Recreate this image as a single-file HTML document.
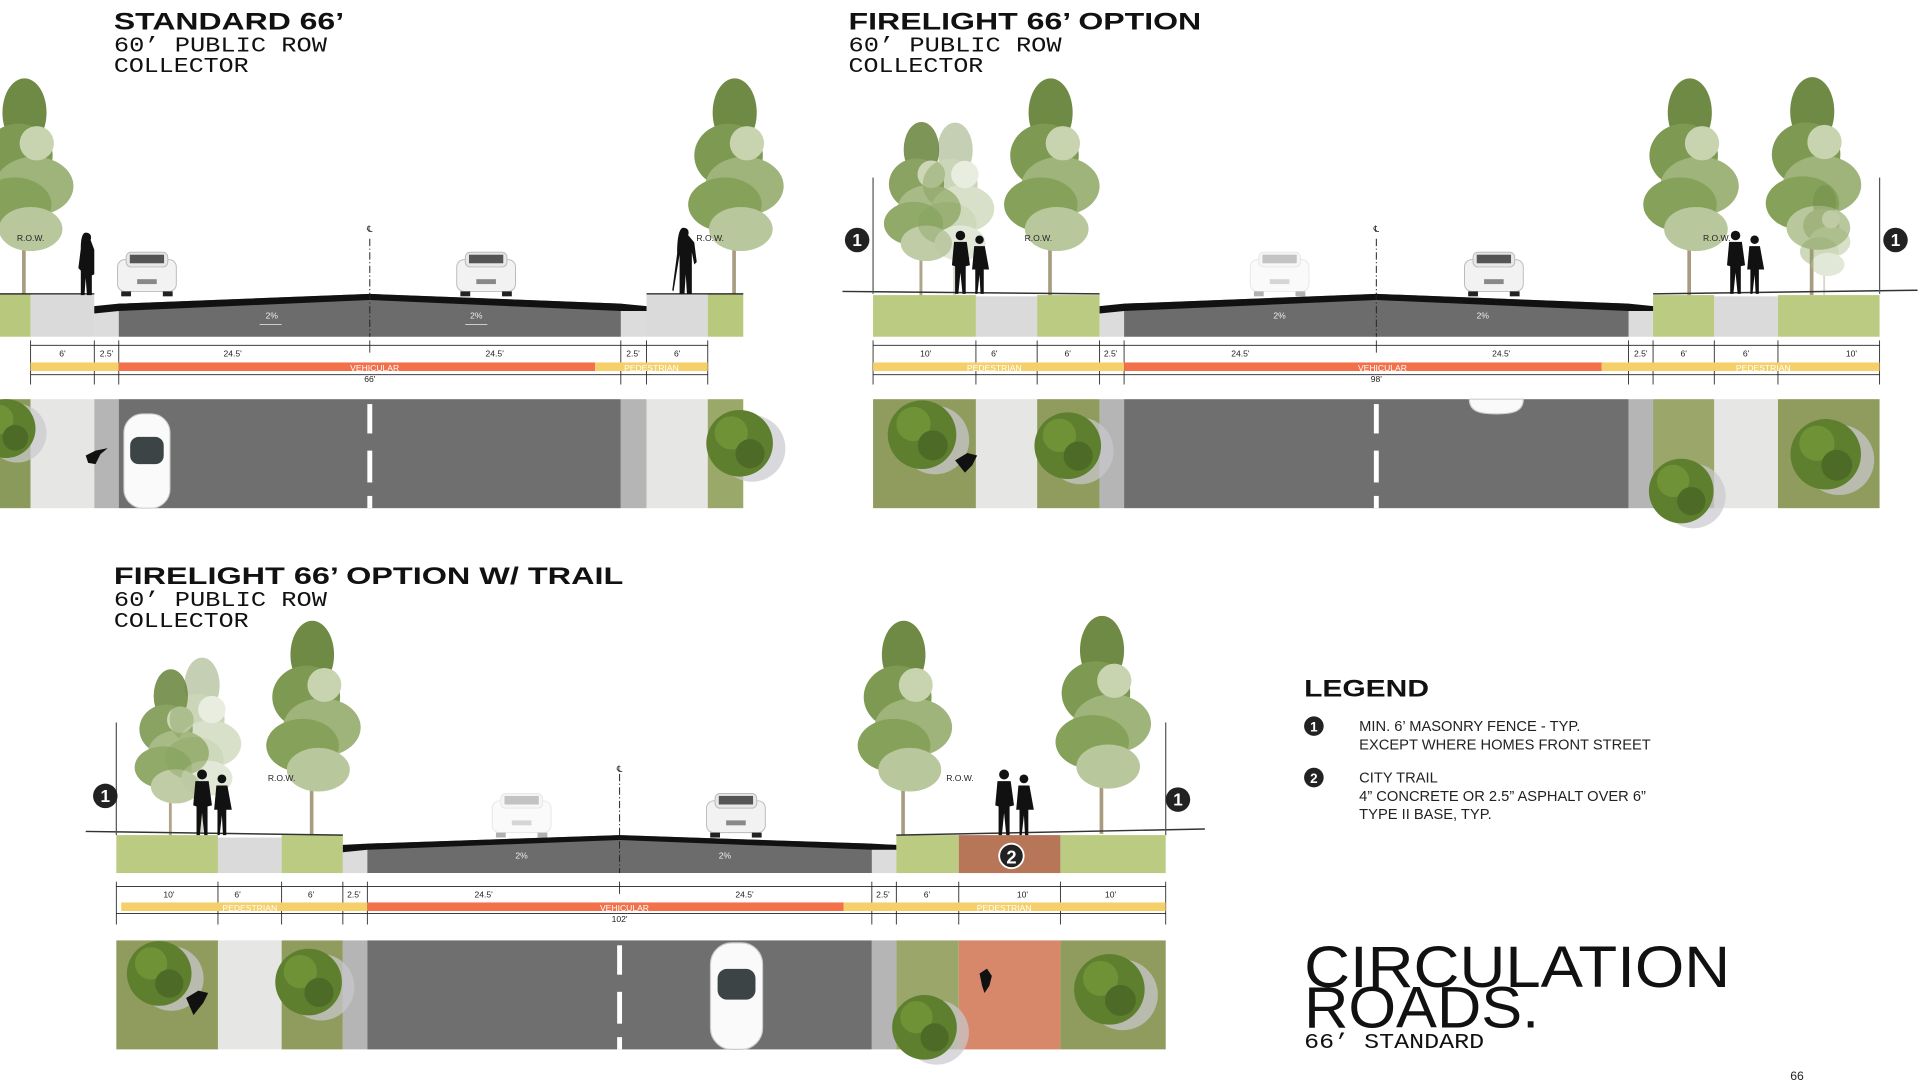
<!DOCTYPE html>
<html><head><meta charset="utf-8"><style>
html,body{margin:0;padding:0;background:#fff;width:1920px;height:1080px;overflow:hidden}
svg{display:block}
.t{font-family:"Liberation Sans",sans-serif;font-weight:bold;fill:#111}
.m{font-family:"Liberation Mono",monospace;fill:#111}
.s{font-family:"Liberation Sans",sans-serif;fill:#222}
.d{font-family:"Liberation Sans",sans-serif;font-size:7px;fill:#222;text-anchor:middle}
.b{font-family:"Liberation Sans",sans-serif;font-size:7px;fill:#fff;text-anchor:middle}
</style></head><body>
<svg width="1920" height="1080" viewBox="0 0 1568 882" xmlns="http://www.w3.org/2000/svg">
<defs>
<symbol id="tree" viewBox="0 0 100 180" overflow="visible">
<rect x="48" y="60" width="3" height="120" fill="#a89c80"/>
<ellipse cx="50" cy="30" rx="18" ry="28" fill="#6f8a45"/>
<ellipse cx="45" cy="65" rx="28" ry="26" fill="#7e9a52"/>
<ellipse cx="58" cy="90" rx="32" ry="24" fill="#9fb47a"/>
<ellipse cx="42" cy="105" rx="30" ry="22" fill="#86a15a"/>
<ellipse cx="55" cy="125" rx="26" ry="18" fill="#b9c79d"/>
<ellipse cx="60" cy="55" rx="14" ry="14" fill="#c8d3b0"/>
</symbol>
<symbol id="ptree" viewBox="0 0 80 80" overflow="visible">
<circle cx="52" cy="45" r="32" fill="#c9c9cf" opacity=".7"/>
<circle cx="40" cy="40" r="32" fill="#5e7f2e"/>
<circle cx="32" cy="30" r="16" fill="#6f9237"/>
<circle cx="50" cy="50" r="14" fill="#4d6b26"/>
</symbol>
<symbol id="car" viewBox="0 0 52 38" overflow="visible">
<rect x="2" y="8" width="48" height="26" rx="6" fill="#f2f2f2" stroke="#bbb" stroke-width=".8"/>
<rect x="9" y="2" width="34" height="12" rx="4" fill="#e8e8e8" stroke="#bbb" stroke-width=".8"/>
<rect x="12" y="4" width="28" height="7" fill="#555"/>
<rect x="5" y="34" width="8" height="4" fill="#222"/><rect x="39" y="34" width="8" height="4" fill="#222"/>
<rect x="18" y="24" width="16" height="4" fill="#888"/>
</symbol>
<symbol id="pcar" viewBox="0 0 46 90" overflow="visible">
<rect x="1" y="0" width="44" height="90" rx="18" fill="#fafafa" stroke="#ccc"/>
<rect x="7" y="22" width="32" height="26" rx="8" fill="#3c4446"/>
</symbol>
<symbol id="ppl" viewBox="0 0 40 60" overflow="visible">
<circle cx="10" cy="5" r="4.5" fill="#111"/><path d="M4 11h12l3 22-4 1v26h-3l-2-20-2 20H5V34l-3-1z" fill="#111"/>
<circle cx="28" cy="9" r="4" fill="#111"/><path d="M23 15h10l4 22h-5v23h-3l-1-18-2 18h-2V37h-3z" fill="#111"/>
</symbol>
<symbol id="one" viewBox="0 0 60 60" overflow="visible">
<circle cx="8" cy="26" r="10" fill="#222"/><circle cx="8" cy="26" r="8" fill="none" stroke="#fff" stroke-width="1"/>
</symbol>
</defs>

<!-- TITLES -->
<text class="t" x="93" y="24" font-size="20" textLength="188" lengthAdjust="spacingAndGlyphs">STANDARD 66’</text>
<text class="m" x="93" y="42" font-size="17" textLength="174" lengthAdjust="spacingAndGlyphs">60’ PUBLIC ROW</text>
<text class="m" x="93" y="59" font-size="17" textLength="110" lengthAdjust="spacingAndGlyphs">COLLECTOR</text>
<text class="t" x="693" y="24" font-size="20" textLength="288" lengthAdjust="spacingAndGlyphs">FIRELIGHT 66’ OPTION</text>
<text class="m" x="693" y="42" font-size="17" textLength="174" lengthAdjust="spacingAndGlyphs">60’ PUBLIC ROW</text>
<text class="m" x="693" y="59" font-size="17" textLength="110" lengthAdjust="spacingAndGlyphs">COLLECTOR</text>
<text class="t" x="93" y="477" font-size="20" textLength="416" lengthAdjust="spacingAndGlyphs">FIRELIGHT 66’ OPTION W/ TRAIL</text>
<text class="m" x="93" y="495" font-size="17" textLength="174" lengthAdjust="spacingAndGlyphs">60’ PUBLIC ROW</text>
<text class="m" x="93" y="512" font-size="17" textLength="110" lengthAdjust="spacingAndGlyphs">COLLECTOR</text>

<!-- ===== SECTION 1 ===== -->
<use href="#tree" x="-30" y="62" width="100" height="180"/>
<use href="#tree" x="550" y="62" width="100" height="180"/>
<rect x="0" y="240" width="25" height="35" fill="#b8c97d"/>
<rect x="25" y="241" width="52" height="34" fill="#dadada"/>
<rect x="77" y="252" width="20" height="23" fill="#dcdcdc"/>
<rect x="507" y="252" width="21" height="23" fill="#dcdcdc"/>
<rect x="528" y="241" width="50" height="34" fill="#dadada"/>
<rect x="578" y="240" width="29" height="35" fill="#b8c97d"/>
<polygon points="97,248 302,240 507,248 507,275 97,275" fill="#6c6c6c"/>
<polygon points="77,250 97,248 302,240 507,248 528,250 528,254 507,254 302,245 97,254 77,256" fill="#111"/>
<line x1="0" y1="240" x2="77" y2="240" stroke="#333" stroke-width="1.2"/>
<line x1="528" y1="240" x2="607" y2="240" stroke="#333" stroke-width="1.2"/>
<line x1="302" y1="195" x2="302" y2="275" stroke="#222" stroke-width=".8" stroke-dasharray="6,2,1,2"/>
<text class="d" x="302" y="189">℄</text>
<text class="d" x="25" y="197" fill="#888">R.O.W.</text><text class="d" x="580" y="197" fill="#888">R.O.W.</text>
<use href="#car" x="94" y="204" width="52" height="38"/>
<use href="#car" x="371" y="204" width="52" height="38"/>
<path d="M70 190c4 0 5 3 4 6l3 8v20l-2 1v16h-4l-1-14-1 14h-3v-20l-2-2 2-16c0-7 1-13 4-13z" fill="#111"/>
<path d="M558 186c4 0 5 3 4 6l5 6 2 16-2 2-2-10v34h-4l-1-16-1 16h-4V208l-5 30-1-1 4-30c0-14 2-21 5-21z" fill="#111"/>
<text class="b" x="222" y="260" style="fill:#eee">2%</text><text class="b" x="389" y="260" style="fill:#eee">2%</text>
<line x1="212" y1="265" x2="230" y2="265" stroke="#eee" stroke-width=".6"/><line x1="380" y1="265" x2="398" y2="265" stroke="#eee" stroke-width=".6"/>
<!-- dims -->
<g stroke="#222" stroke-width=".7">
<line x1="25" y1="282" x2="578" y2="282"/><line x1="25" y1="306" x2="578" y2="306"/>
<line x1="25" y1="278" x2="25" y2="314"/><line x1="77" y1="278" x2="77" y2="314"/><line x1="97" y1="278" x2="97" y2="314"/><line x1="302" y1="278" x2="302" y2="288"/><line x1="507" y1="278" x2="507" y2="314"/><line x1="528" y1="278" x2="528" y2="314"/><line x1="578" y1="278" x2="578" y2="314"/>
</g>
<text class="d" x="51" y="291">6'</text><text class="d" x="87" y="291">2.5'</text><text class="d" x="190" y="291">24.5'</text><text class="d" x="404" y="291">24.5'</text><text class="d" x="517" y="291">2.5'</text><text class="d" x="553" y="291">6'</text>
<rect x="25" y="296" width="72" height="7" fill="#f5d06a"/><rect x="97" y="296" width="389" height="7" fill="#f2714a"/><rect x="486" y="296" width="92" height="7" fill="#f5d06a"/>
<text class="b" x="306" y="303">VEHICULAR</text><text class="b" x="532" y="303">PEDESTRIAN</text>
<text class="d" x="302" y="312">66'</text>
<!-- plan -->
<rect x="0" y="326" width="25" height="89" fill="#8a9a5a"/>
<rect x="25" y="326" width="52" height="89" fill="#e6e6e4"/>
<rect x="77" y="326" width="20" height="89" fill="#b5b5b5"/>
<rect x="97" y="326" width="410" height="89" fill="#6f6f6f"/>
<rect x="507" y="326" width="21" height="89" fill="#b5b5b5"/>
<rect x="528" y="326" width="50" height="89" fill="#e6e6e4"/>
<rect x="578" y="326" width="29" height="89" fill="#9aa86a"/>
<use href="#ptree" x="-25" y="320" width="60" height="60"/>
<use href="#ptree" x="570" y="328" width="68" height="68"/>
<g fill="#fff"><rect x="300" y="330" width="4" height="24"/><rect x="300" y="368" width="4" height="26"/><rect x="300" y="405" width="4" height="10"/></g>
<use href="#pcar" x="97" y="338" width="46" height="77"/>
<path d="M70 372l8-4 10-2-6 5-4 8-6-1z" fill="#111"/>

<!-- ===== SECTION 2 ===== -->
<use href="#tree" x="705" y="98" width="95" height="145" opacity=".9"/>
<use href="#tree" x="740" y="98" width="80" height="145" opacity=".4"/>
<use href="#tree" x="808" y="62" width="100" height="180"/>
<use href="#tree" x="1330" y="62" width="100" height="180"/>
<use href="#tree" x="1430" y="60" width="100" height="182"/>
<use href="#tree" x="1455" y="150" width="70" height="95" opacity=".4"/>
<rect x="713" y="241" width="84" height="34" fill="#bccb82"/>
<rect x="797" y="242" width="50" height="33" fill="#dadada"/>
<rect x="847" y="241" width="51" height="34" fill="#bccb82"/>
<rect x="898" y="252" width="20" height="23" fill="#dcdcdc"/>
<rect x="1330" y="252" width="20" height="23" fill="#dcdcdc"/>
<rect x="1350" y="241" width="50" height="34" fill="#bccb82"/>
<rect x="1400" y="242" width="52" height="33" fill="#dadada"/>
<rect x="1452" y="241" width="83" height="34" fill="#bccb82"/>
<polygon points="918,248 1124,240 1330,248 1330,275 918,275" fill="#6c6c6c"/>
<polygon points="898,250 918,248 1124,240 1330,248 1350,250 1350,254 1330,254 1124,245 918,254 898,256" fill="#111"/>
<line x1="688" y1="238" x2="898" y2="240" stroke="#333" stroke-width="1.2"/>
<line x1="1350" y1="240" x2="1566" y2="237" stroke="#333" stroke-width="1.2"/>
<line x1="713" y1="145" x2="713" y2="240" stroke="#555" stroke-width="1"/>
<line x1="1535" y1="145" x2="1535" y2="240" stroke="#555" stroke-width="1"/>
<circle cx="700" cy="196" r="10" fill="#222"/><text x="700" y="201" font-size="14" font-family="Liberation Sans" font-weight="bold" fill="#fff" text-anchor="middle">1</text>
<circle cx="1548" cy="196" r="10" fill="#222"/><text x="1548" y="201" font-size="14" font-family="Liberation Sans" font-weight="bold" fill="#fff" text-anchor="middle">1</text>
<line x1="1124" y1="195" x2="1124" y2="275" stroke="#222" stroke-width=".8" stroke-dasharray="6,2,1,2"/>
<text class="d" x="1124" y="189">℄</text>
<text class="d" x="848" y="197" fill="#888">R.O.W.</text><text class="d" x="1402" y="197" fill="#888">R.O.W.</text>
<use href="#car" x="1019" y="204" width="52" height="38" opacity=".35"/>
<use href="#car" x="1194" y="204" width="52" height="38"/>
<use href="#ppl" x="773" y="188" width="40" height="52"/>
<use href="#ppl" x="1408" y="188" width="36" height="52"/>
<text class="b" x="1045" y="260" style="fill:#eee">2%</text><text class="b" x="1211" y="260" style="fill:#eee">2%</text>
<g stroke="#222" stroke-width=".7">
<line x1="713" y1="282" x2="1535" y2="282"/><line x1="713" y1="306" x2="1535" y2="306"/>
<line x1="713" y1="278" x2="713" y2="314"/><line x1="797" y1="278" x2="797" y2="314"/><line x1="847" y1="278" x2="847" y2="314"/><line x1="898" y1="278" x2="898" y2="314"/><line x1="918" y1="278" x2="918" y2="314"/><line x1="1124" y1="278" x2="1124" y2="288"/><line x1="1330" y1="278" x2="1330" y2="314"/><line x1="1350" y1="278" x2="1350" y2="314"/><line x1="1400" y1="278" x2="1400" y2="314"/><line x1="1452" y1="278" x2="1452" y2="314"/><line x1="1535" y1="278" x2="1535" y2="314"/>
</g>
<text class="d" x="756" y="291">10'</text><text class="d" x="812" y="291">6'</text><text class="d" x="872" y="291">6'</text><text class="d" x="907" y="291">2.5'</text><text class="d" x="1013" y="291">24.5'</text><text class="d" x="1226" y="291">24.5'</text><text class="d" x="1340" y="291">2.5'</text><text class="d" x="1375" y="291">6'</text><text class="d" x="1426" y="291">6'</text><text class="d" x="1512" y="291">10'</text>
<rect x="713" y="296" width="205" height="7" fill="#f5d06a"/><rect x="918" y="296" width="390" height="7" fill="#f2714a"/><rect x="1308" y="296" width="227" height="7" fill="#f5d06a"/>
<text class="b" x="812" y="303">PEDESTRIAN</text><text class="b" x="1129" y="303">VEHICULAR</text><text class="b" x="1440" y="303">PEDESTRIAN</text>
<text class="d" x="1124" y="312">98'</text>
<rect x="713" y="326" width="84" height="89" fill="#8f9c5e"/>
<rect x="797" y="326" width="50" height="89" fill="#e6e6e4"/>
<rect x="847" y="326" width="51" height="89" fill="#8f9c5e"/>
<rect x="898" y="326" width="20" height="89" fill="#b5b5b5"/>
<rect x="918" y="326" width="412" height="89" fill="#6f6f6f"/>
<rect x="1330" y="326" width="20" height="89" fill="#b5b5b5"/>
<rect x="1350" y="326" width="50" height="89" fill="#9aa66a"/>
<rect x="1400" y="326" width="52" height="89" fill="#e6e6e4"/>
<rect x="1452" y="326" width="83" height="89" fill="#8f9c5e"/>
<use href="#ptree" x="718" y="320" width="70" height="70"/>
<use href="#ptree" x="838" y="330" width="68" height="68"/>
<use href="#ptree" x="1340" y="368" width="66" height="66"/>
<use href="#ptree" x="1455" y="335" width="72" height="72"/>
<g fill="#fff"><rect x="1122" y="330" width="4" height="24"/><rect x="1122" y="368" width="4" height="26"/><rect x="1122" y="405" width="4" height="10"/></g>
<path d="M1200 326h44c0 10-8 12-22 12s-22-2-22-12z" fill="#fafafa" stroke="#ccc"/>
<path d="M780 376l10-6 8 2-4 8-6 6z" fill="#111"/>

<!-- ===== SECTION 3 ===== -->
<use href="#tree" x="92" y="545" width="95" height="140" opacity=".9"/>
<use href="#tree" x="125" y="535" width="80" height="145" opacity=".4"/>
<use href="#tree" x="205" y="505" width="100" height="178"/>
<use href="#tree" x="688" y="505" width="100" height="178"/>
<use href="#tree" x="850" y="500" width="100" height="182"/>
<rect x="95" y="682" width="83" height="31" fill="#bccb82"/>
<rect x="178" y="684" width="52" height="29" fill="#dadada"/>
<rect x="230" y="682" width="50" height="31" fill="#bccb82"/>
<rect x="280" y="692" width="20" height="21" fill="#dcdcdc"/>
<rect x="712" y="692" width="20" height="21" fill="#dcdcdc"/>
<rect x="732" y="682" width="51" height="31" fill="#bccb82"/>
<rect x="783" y="682" width="83" height="31" fill="#b87658"/>
<rect x="866" y="682" width="86" height="31" fill="#bccb82"/>
<polygon points="300,689 506,682 712,689 712,713 300,713" fill="#6c6c6c"/>
<polygon points="280,690 300,689 506,682 712,689 732,690 732,694 712,694 506,686 300,694 280,696" fill="#111"/>
<line x1="70" y1="679" x2="280" y2="682" stroke="#333" stroke-width="1.2"/>
<line x1="732" y1="682" x2="984" y2="677" stroke="#333" stroke-width="1.2"/>
<line x1="95" y1="590" x2="95" y2="682" stroke="#555" stroke-width="1"/>
<line x1="952" y1="590" x2="952" y2="682" stroke="#555" stroke-width="1"/>
<circle cx="86" cy="650" r="10" fill="#222"/><text x="86" y="655" font-size="14" font-family="Liberation Sans" font-weight="bold" fill="#fff" text-anchor="middle">1</text>
<circle cx="962" cy="653" r="10" fill="#222"/><text x="962" y="658" font-size="14" font-family="Liberation Sans" font-weight="bold" fill="#fff" text-anchor="middle">1</text>
<circle cx="826" cy="699" r="10" fill="#222" stroke="#fff" stroke-width="1.5"/><text x="826" y="705" font-size="15" font-family="Liberation Sans" font-weight="bold" fill="#fff" text-anchor="middle">2</text>
<line x1="506" y1="632" x2="506" y2="713" stroke="#222" stroke-width=".8" stroke-dasharray="6,2,1,2"/>
<text class="d" x="506" y="630">℄</text>
<text class="d" x="230" y="638" fill="#888">R.O.W.</text><text class="d" x="784" y="638" fill="#888">R.O.W.</text>
<use href="#car" x="400" y="646" width="52" height="38" opacity=".35"/>
<use href="#car" x="575" y="646" width="52" height="38"/>
<use href="#ppl" x="152" y="628" width="44" height="54"/>
<use href="#ppl" x="810" y="628" width="38" height="54"/>
<text class="b" x="426" y="701" style="fill:#eee">2%</text><text class="b" x="592" y="701" style="fill:#eee">2%</text>
<g stroke="#222" stroke-width=".7">
<line x1="95" y1="724" x2="952" y2="724"/><line x1="95" y1="746" x2="952" y2="746"/>
<line x1="95" y1="720" x2="95" y2="755"/><line x1="178" y1="720" x2="178" y2="755"/><line x1="230" y1="720" x2="230" y2="755"/><line x1="280" y1="720" x2="280" y2="755"/><line x1="300" y1="720" x2="300" y2="755"/><line x1="506" y1="720" x2="506" y2="730"/><line x1="712" y1="720" x2="712" y2="755"/><line x1="732" y1="720" x2="732" y2="755"/><line x1="783" y1="720" x2="783" y2="755"/><line x1="866" y1="720" x2="866" y2="755"/><line x1="952" y1="720" x2="952" y2="755"/>
</g>
<text class="d" x="138" y="733">10'</text><text class="d" x="194" y="733">6'</text><text class="d" x="254" y="733">6'</text><text class="d" x="289" y="733">2.5'</text><text class="d" x="395" y="733">24.5'</text><text class="d" x="608" y="733">24.5'</text><text class="d" x="721" y="733">2.5'</text><text class="d" x="757" y="733">6'</text><text class="d" x="835" y="733">10'</text><text class="d" x="907" y="733">10'</text>
<rect x="99" y="737" width="201" height="7" fill="#f5d06a"/><rect x="300" y="737" width="389" height="7" fill="#f2714a"/><rect x="689" y="737" width="263" height="7" fill="#f5d06a"/>
<text class="b" x="204" y="744">PEDESTRIAN</text><text class="b" x="510" y="744">VEHICULAR</text><text class="b" x="820" y="744">PEDESTRIAN</text>
<text class="d" x="506" y="753">102'</text>
<rect x="95" y="768" width="83" height="89" fill="#8f9c5e"/>
<rect x="178" y="768" width="52" height="89" fill="#e6e6e4"/>
<rect x="230" y="768" width="50" height="89" fill="#8f9c5e"/>
<rect x="280" y="768" width="20" height="89" fill="#b5b5b5"/>
<rect x="300" y="768" width="412" height="89" fill="#6f6f6f"/>
<rect x="712" y="768" width="20" height="89" fill="#b5b5b5"/>
<rect x="732" y="768" width="51" height="89" fill="#9aa66a"/>
<rect x="783" y="768" width="83" height="89" fill="#d7876a"/>
<rect x="866" y="768" width="86" height="89" fill="#8f9c5e"/>
<use href="#ptree" x="97" y="762" width="66" height="66"/>
<use href="#ptree" x="218" y="768" width="68" height="68"/>
<use href="#ptree" x="722" y="806" width="66" height="66"/>
<use href="#ptree" x="870" y="772" width="72" height="72"/>
<g fill="#fff"><rect x="504" y="772" width="4" height="24"/><rect x="504" y="810" width="4" height="26"/><rect x="504" y="847" width="4" height="10"/></g>
<use href="#pcar" x="578" y="770" width="47" height="87"/>
<path d="M152 815l10-6 8 2-4 8-8 10z" fill="#111"/>
<path d="M800 795l6-4 4 6-2 8-4 6-2-6z" fill="#111"/>

<!-- LEGEND -->
<text class="t" x="1065" y="569" font-size="20" textLength="102" lengthAdjust="spacingAndGlyphs">LEGEND</text>
<circle cx="1073" cy="593" r="8" fill="#222"/><text x="1073" y="597.5" font-size="11" font-family="Liberation Sans" font-weight="bold" fill="#fff" text-anchor="middle">1</text>
<circle cx="1073" cy="635" r="8" fill="#222"/><text x="1073" y="639.5" font-size="11" font-family="Liberation Sans" font-weight="bold" fill="#fff" text-anchor="middle">2</text>
<text class="s" x="1110" y="597" font-size="12">MIN. 6’ MASONRY FENCE - TYP.</text>
<text class="s" x="1110" y="612" font-size="12">EXCEPT WHERE HOMES FRONT STREET</text>
<text class="s" x="1110" y="639" font-size="12">CITY TRAIL</text>
<text class="s" x="1110" y="654" font-size="12">4” CONCRETE OR 2.5” ASPHALT OVER 6”</text>
<text class="s" x="1110" y="669" font-size="12">TYPE II BASE, TYP.</text>

<text x="1065" y="806" font-size="48" font-family="Liberation Sans" fill="#111" textLength="348" lengthAdjust="spacingAndGlyphs">CIRCULATION</text>
<text x="1065" y="839" font-size="48" font-family="Liberation Sans" fill="#111" textLength="192" lengthAdjust="spacingAndGlyphs">ROADS.</text>
<text class="m" x="1065" y="856" font-size="17" textLength="147" lengthAdjust="spacingAndGlyphs">66’ STANDARD</text>
<text x="1462" y="882" font-size="10" font-family="Liberation Sans" fill="#222">66</text>
</svg>
</body></html>
